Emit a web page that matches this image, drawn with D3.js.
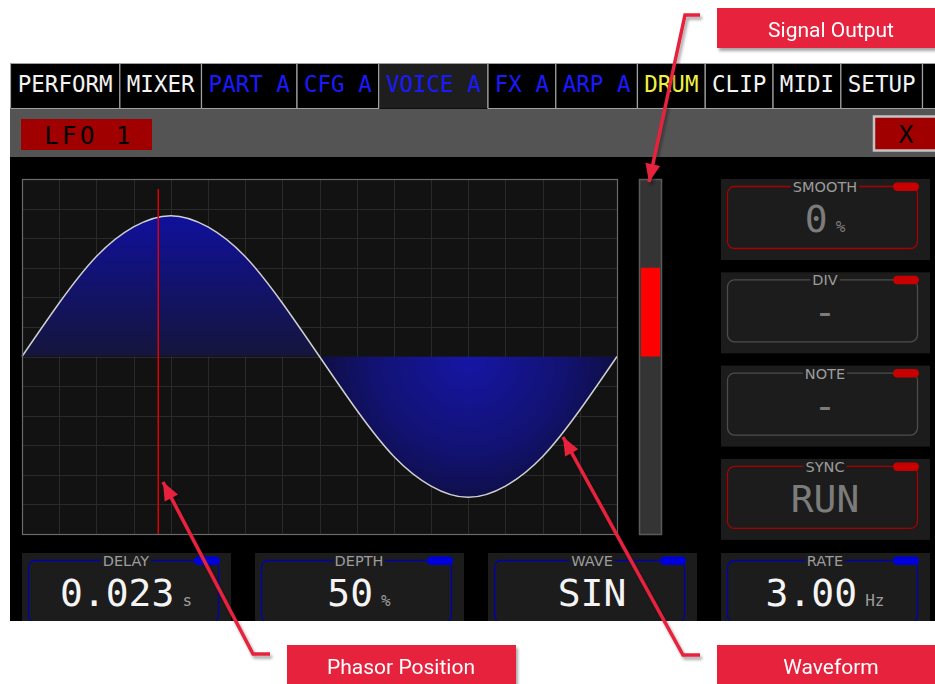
<!DOCTYPE html>
<html>
<head>
<meta charset="utf-8">
<script src="https://cdn.jsdelivr.net/npm/d3@7/dist/d3.min.js"></script>
<style>
  body { margin: 0; background: #fff; }
  svg { display: block; }
</style>
</head>
<body>
<svg id="lfo" width="935" height="684"></svg>
<script>
// ---- data ----
var tabNames = ["PERFORM", "MIXER", "PART A", "CFG A", "VOICE A", "FX A", "ARP A", "DRUM", "CLIP", "MIDI", "SETUP", ""];
var tabGroups = ["main", "main", "part", "part", "part", "part", "part", "drum", "main", "main", "main", "main"];
var activeTab = "VOICE A";
var pageTitle = "LFO 1";

// one period of the waveform, sampled at each grid column (16 columns)
var waveSamples = [0, 0.38, 0.71, 0.92, 1, 0.92, 0.71, 0.38, 0, -0.38, -0.71, -0.92, -1, -0.92, -0.71, -0.38, 0];
var phasorPosition = 0.229;   // fraction of the period
var signalOutput = 0.5;       // output meter, -1..1

var sideLabels = ["SMOOTH", "DIV", "NOTE", "SYNC"];
var sideValues = ["0", "-", "-", "RUN"];
var sideUnits = ["%", "", "", ""];
var sideActive = [true, false, false, true];

var paramLabels = ["DELAY", "DEPTH", "WAVE", "RATE"];
var paramValues = ["0.023", "50", "SIN", "3.00"];
var paramUnits = ["s", "%", "", "Hz"];

var callouts = ["Signal Output", "Phasor Position", "Waveform"];

// ---- drawing ----
var svg = d3.select("#lfo");
var defs = svg.append("defs");
var mono = "DejaVu Sans Mono, monospace";
var sans = "DejaVu Sans, sans-serif";

svg.append("rect").attr("width", 935).attr("height", 684).attr("fill", "#fff");

defs.append("clipPath").attr("id", "uiClip")
  .append("rect").attr("x", 10).attr("y", 62).attr("width", 925).attr("height", 559);

var ui = svg.append("g").attr("clip-path", "url(#uiClip)");
ui.append("rect").attr("x", 10).attr("y", 63).attr("width", 925).attr("height", 558).attr("fill", "#000");

// tabs
var tabColor = { main: "#f2f2f2", part: "#1a1aff", drum: "#f0f040" };
var charW = 13.85, tabPad = 12.4, tabTop = 63.5, tabH = 45;
var tx = 10.5;
tabNames.forEach(function (name, i) {
  var w = name ? name.length * charW + tabPad : 60;
  var active = name === activeTab;
  ui.append("rect")
    .attr("x", tx).attr("y", tabTop).attr("width", w).attr("height", tabH)
    .attr("fill", active ? "#1e1e1e" : "#000");
  ui.append("path")
    .attr("d", "M" + tx + "," + (tabTop + tabH) + "V" + tabTop + "H" + (tx + w) + "V" + (tabTop + tabH) + (active ? "" : "H" + tx))
    .attr("fill", "none").attr("stroke", "#a0a0a0").attr("stroke-width", 1.2);
  ui.append("text")
    .attr("x", tx + w / 2).attr("y", 92)
    .attr("text-anchor", "middle")
    .attr("font-family", mono).attr("font-size", 22.5)
    .attr("fill", tabColor[tabGroups[i]])
    .text(name);
  tx += w;
});

// header bar
ui.append("rect").attr("x", 10).attr("y", 109).attr("width", 925).attr("height", 48).attr("fill", "#545454");
ui.append("rect").attr("x", 21).attr("y", 119).attr("width", 131).attr("height", 31).attr("fill", "#a00000");
ui.append("text")
  .attr("x", 89).attr("y", 144).attr("text-anchor", "middle")
  .attr("font-family", mono).attr("font-size", 24).attr("letter-spacing", 3.5)
  .attr("fill", "#000").text(pageTitle);
ui.append("rect").attr("x", 874).attr("y", 116.5).attr("width", 70).attr("height", 34)
  .attr("fill", "#a00000").attr("stroke", "#c4c4c4").attr("stroke-width", 2.5);
ui.append("text")
  .attr("x", 906).attr("y", 143).attr("text-anchor", "middle")
  .attr("font-family", mono).attr("font-size", 25)
  .attr("fill", "#000").text("X");

// waveform graph
var gx0 = 22, gx1 = 617, gy0 = 179, gy1 = 534;
var x = d3.scaleLinear().domain([0, waveSamples.length - 1]).range([gx0, gx1]);
var y = d3.scaleLinear().domain([-1.26, 1.26]).range([gy1, gy0]);
var yGrid = d3.scaleLinear().domain([0, 12]).range([gy1, gy0]);

ui.append("rect").attr("x", gx0).attr("y", gy0).attr("width", gx1 - gx0).attr("height", gy1 - gy0).attr("fill", "#121212");

var grid = ui.append("g").attr("stroke", "#2a2a2a").attr("stroke-width", 1);
grid.selectAll("line.v").data(d3.range(1, waveSamples.length - 1)).enter().append("line")
  .attr("x1", function (d) { return Math.round(x(d)) + 0.5; })
  .attr("x2", function (d) { return Math.round(x(d)) + 0.5; })
  .attr("y1", gy0).attr("y2", gy1);
grid.selectAll("line.h").data(d3.range(1, 12)).enter().append("line")
  .attr("y1", function (d) { return Math.round(yGrid(d)) + 0.5; })
  .attr("y2", function (d) { return Math.round(yGrid(d)) + 0.5; })
  .attr("x1", gx0).attr("x2", gx1);

var topGrad = defs.append("linearGradient").attr("id", "topGrad")
  .attr("gradientUnits", "userSpaceOnUse")
  .attr("x1", 0).attr("x2", 0).attr("y1", y(1)).attr("y2", y(0));
topGrad.append("stop").attr("offset", 0).attr("stop-color", "#10109c");
topGrad.append("stop").attr("offset", 1).attr("stop-color", "#15153c");

var botGrad = defs.append("radialGradient").attr("id", "botGrad")
  .attr("gradientUnits", "userSpaceOnUse")
  .attr("cx", x(12)).attr("cy", y(0)).attr("r", 175);
botGrad.append("stop").attr("offset", 0).attr("stop-color", "#1616a6");
botGrad.append("stop").attr("offset", 0.55).attr("stop-color", "#121272");
botGrad.append("stop").attr("offset", 1).attr("stop-color", "#0c0c2c");

defs.append("clipPath").attr("id", "clipTop").append("rect")
  .attr("x", gx0).attr("y", gy0).attr("width", gx1 - gx0).attr("height", y(0) - gy0);
defs.append("clipPath").attr("id", "clipBot").append("rect")
  .attr("x", gx0).attr("y", y(0)).attr("width", gx1 - gx0).attr("height", gy1 - y(0));

var area = d3.area()
  .curve(d3.curveNatural)
  .x(function (d, i) { return x(i); })
  .y0(y(0))
  .y1(function (d) { return y(d); });
var line = d3.line()
  .curve(d3.curveNatural)
  .x(function (d, i) { return x(i); })
  .y(function (d) { return y(d); });

ui.append("path").datum(waveSamples).attr("d", area).attr("fill", "url(#topGrad)").attr("clip-path", "url(#clipTop)");
ui.append("path").datum(waveSamples).attr("d", area).attr("fill", "url(#botGrad)").attr("clip-path", "url(#clipBot)");
ui.append("path").datum(waveSamples).attr("d", line)
  .attr("fill", "none").attr("stroke", "#d0d0d0").attr("stroke-width", 1.5);

ui.append("rect").attr("x", gx0 + 0.5).attr("y", gy0 + 0.5).attr("width", gx1 - gx0).attr("height", gy1 - gy0)
  .attr("fill", "none").attr("stroke", "#6a6a6a").attr("stroke-width", 1.2);

var phasorX = x(phasorPosition * (waveSamples.length - 1));
ui.append("line")
  .attr("x1", phasorX).attr("x2", phasorX).attr("y1", gy0 + 10).attr("y2", gy1)
  .attr("stroke", "#e00000").attr("stroke-width", 1.5);

// signal output meter
var sig = d3.scaleLinear().domain([-1, 1]).range([gy1, gy0]);
ui.append("rect").attr("x", 639.5).attr("y", gy0 + 0.5).attr("width", 22).attr("height", gy1 - gy0)
  .attr("fill", "#343434").attr("stroke", "#5a5a5a").attr("stroke-width", 1.5);
ui.append("rect")
  .attr("x", 641).attr("width", 19)
  .attr("y", Math.min(sig(0), sig(signalOutput)))
  .attr("height", Math.abs(sig(0) - sig(signalOutput)))
  .attr("fill", "#ff0000");

// parameter box helper
function paramBox(px, py, label, value, unit, stroke, pill, valueColor, unitColor) {
  var g = ui.append("g");
  g.append("rect").attr("x", px).attr("y", py).attr("width", 209).attr("height", 81).attr("fill", "#1c1c1c");
  g.append("rect").attr("x", px + 6.5).attr("y", py + 7.5).attr("width", 190).attr("height", 62).attr("rx", 7)
    .attr("fill", "none").attr("stroke", stroke).attr("stroke-width", 1.3);
  var lbl = g.append("text")
    .attr("x", px + 104).attr("y", py + 13).attr("text-anchor", "middle")
    .attr("font-family", sans).attr("font-size", 14.5).attr("fill", "#9c9c9c")
    .text(label);
  var bb = lbl.node().getBBox();
  g.insert("rect", "text").attr("x", bb.x - 2).attr("y", py + 4).attr("width", bb.width + 4).attr("height", 8).attr("fill", "#1c1c1c");
  g.append("rect").attr("x", px + 172).attr("y", py + 3.5).attr("width", 26).attr("height", 8.5).attr("rx", 4.2).attr("fill", pill);
  var t = g.append("text")
    .attr("x", px + 104).attr("y", py + 53).attr("text-anchor", "middle")
    .attr("font-family", mono).attr("font-size", 38).attr("fill", valueColor);
  t.append("tspan").text(value);
  if (unit) {
    t.append("tspan").attr("dx", 8).attr("font-size", 16).attr("fill", unitColor).text(unit);
  }
}

sideLabels.forEach(function (lab, i) {
  paramBox(721, 179 + i * 93.3, lab, sideValues[i], sideUnits[i],
    sideActive[i] ? "#a80000" : "#4c4c4c", "#c80000", "#7c7c7c", "#7c7c7c");
});
paramLabels.forEach(function (lab, i) {
  paramBox(22 + i * 233, 553, lab, paramValues[i], paramUnits[i],
    "#0000b4", "#0000dc", "#f4f4f4", "#9c9c9c");
});

// ---- callouts ----
var red = "#e6213e";
var shadow = defs.append("filter").attr("id", "shadow").attr("x", -0.2).attr("y", -0.2).attr("width", 1.4).attr("height", 1.6);
shadow.append("feDropShadow").attr("dx", 2).attr("dy", 3).attr("stdDeviation", 1.6)
  .attr("flood-color", "#000").attr("flood-opacity", 0.35);

var notes = svg.append("g").attr("filter", "url(#shadow)");

function arrow(points) {
  notes.append("path")
    .attr("d", d3.line()(points))
    .attr("fill", "none").attr("stroke", red).attr("stroke-width", 3.5)
    .attr("stroke-linejoin", "miter");
  var a = points[points.length - 2], b = points[points.length - 1];
  var ang = Math.atan2(b[1] - a[1], b[0] - a[0]);
  var len = 18, half = 7.5;
  var bx = b[0] - len * Math.cos(ang), by = b[1] - len * Math.sin(ang);
  var px = -Math.sin(ang) * half, py = Math.cos(ang) * half;
  notes.append("path")
    .attr("d", "M" + b[0] + "," + b[1] + "L" + (bx + px) + "," + (by + py) + "L" + (bx - px) + "," + (by - py) + "Z")
    .attr("fill", red);
}

function labelBox(bx, by, w, text) {
  notes.append("rect").attr("x", bx).attr("y", by).attr("width", w).attr("height", 40).attr("fill", red);
  notes.append("text")
    .attr("x", bx + 114).attr("y", by + 29).attr("text-anchor", "middle")
    .attr("font-family", "Roboto, sans-serif").attr("font-size", 21).attr("fill", "#fff")
    .text(text);
}

arrow([[700, 15], [685, 15], [649, 182]]);
labelBox(717, 8, 230, callouts[0]);

arrow([[270, 654], [253, 654], [163, 482]]);
labelBox(287, 645, 229, callouts[1]);

arrow([[700, 655], [683, 655], [563, 437]]);
labelBox(717, 645, 230, callouts[2]);
</script>
</body>
</html>
